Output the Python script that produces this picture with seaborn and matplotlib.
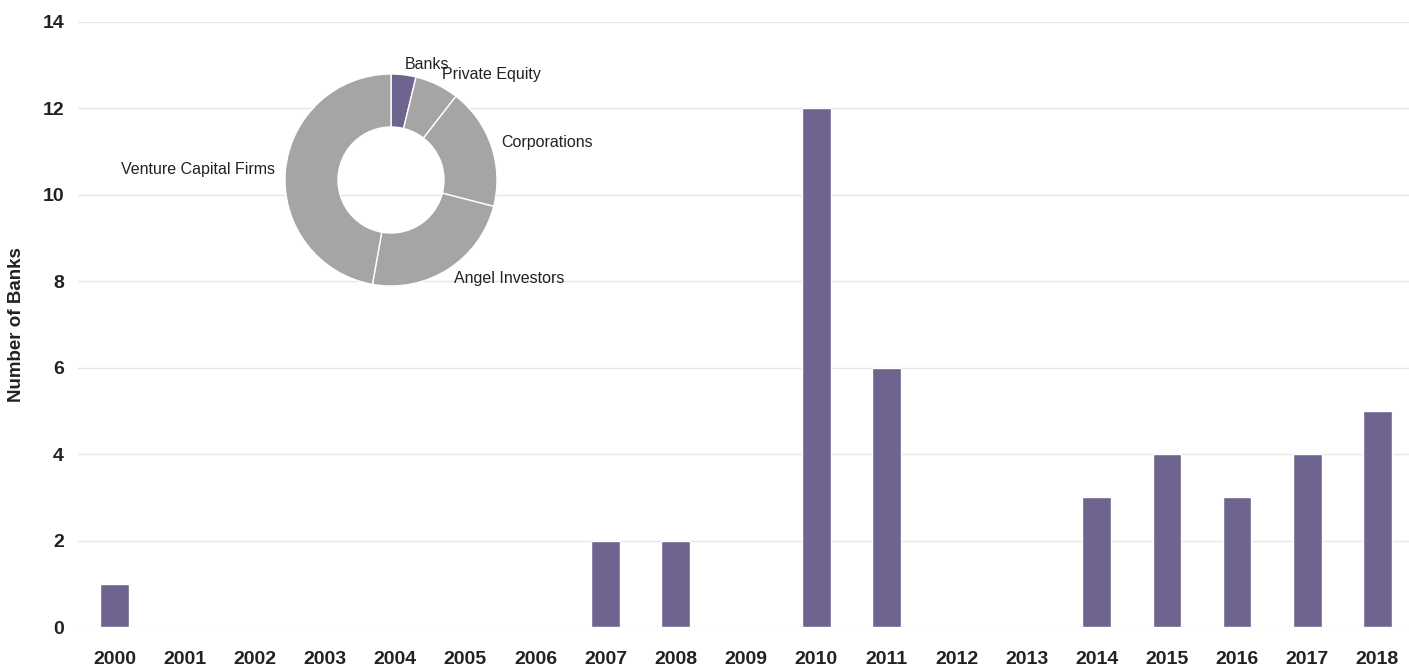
import numpy as np
import pandas as pd
import seaborn as sns
from matplotlib import pyplot as plt

years = [str(y) for y in range(2000, 2019)]
banks = [1, 0, 0, 0, 0, 0, 0, 2, 2, 0, 12, 6, 0, 0, 3, 4, 3, 4, 5]

investor_types = ["Banks", "Private Equity", "Corporations", "Angel Investors", "Venture Capital Firms"]
investor_share = [3.8, 6.7, 18.5, 23.8, 47.2]

purple = "#6f6390"
grey = "#a5a5a5"

sns.set_style("white")
plt.rcParams['font.family'] = ['Liberation Sans', 'DejaVu Sans']

df = pd.DataFrame({"Year": years, "Banks": banks})

fig = plt.figure(figsize=(14.09, 6.65), dpi=100)
ax = fig.add_axes([78 / 1409, 1 - 627 / 665, (1409 - 78) / 1409, (627 - 22) / 665])
sns.barplot(data=df, x="Year", y="Banks", color=purple, width=0.41, saturation=1, ax=ax)
ax.set_ylim(0, 14)
ax.set_yticks(range(0, 15, 2))
ax.set_xlim(-0.52, 18.45)
ax.yaxis.grid(True, color="#e6e6e6", linewidth=1)
ax.set_axisbelow(True)
for s in ax.spines.values():
    s.set_visible(False)
ax.set_xlabel("")
ax.set_ylabel("Number of Banks", fontsize=13.5, fontweight="bold", color="#222222")
ax.yaxis.set_label_coords(-53 / 1331, 0.5)
ax.tick_params(axis="both", length=0, labelsize=14, colors="#222222")
ax.tick_params(axis="x", pad=17)
ax.tick_params(axis="y", pad=10)
for lbl in ax.get_xticklabels() + ax.get_yticklabels():
    lbl.set_fontweight("bold")

# donut inset
r = 106
cx, cy = 391, 180
pax = fig.add_axes([(cx - r) / 1409, 1 - (cy + r) / 665, 2 * r / 1409, 2 * r / 665])
pax.pie(investor_share, labels=investor_types, colors=[purple, grey, grey, grey, grey],
        startangle=90, counterclock=False, labeldistance=1.1,
        wedgeprops=dict(width=0.5, edgecolor="white", linewidth=1),
        textprops=dict(fontsize=11.5, color="#222222"))
pax.set_xlim(-1, 1)
pax.set_ylim(-1, 1)
pax.set_aspect("equal")

fig.savefig("out.png", dpi=100)
